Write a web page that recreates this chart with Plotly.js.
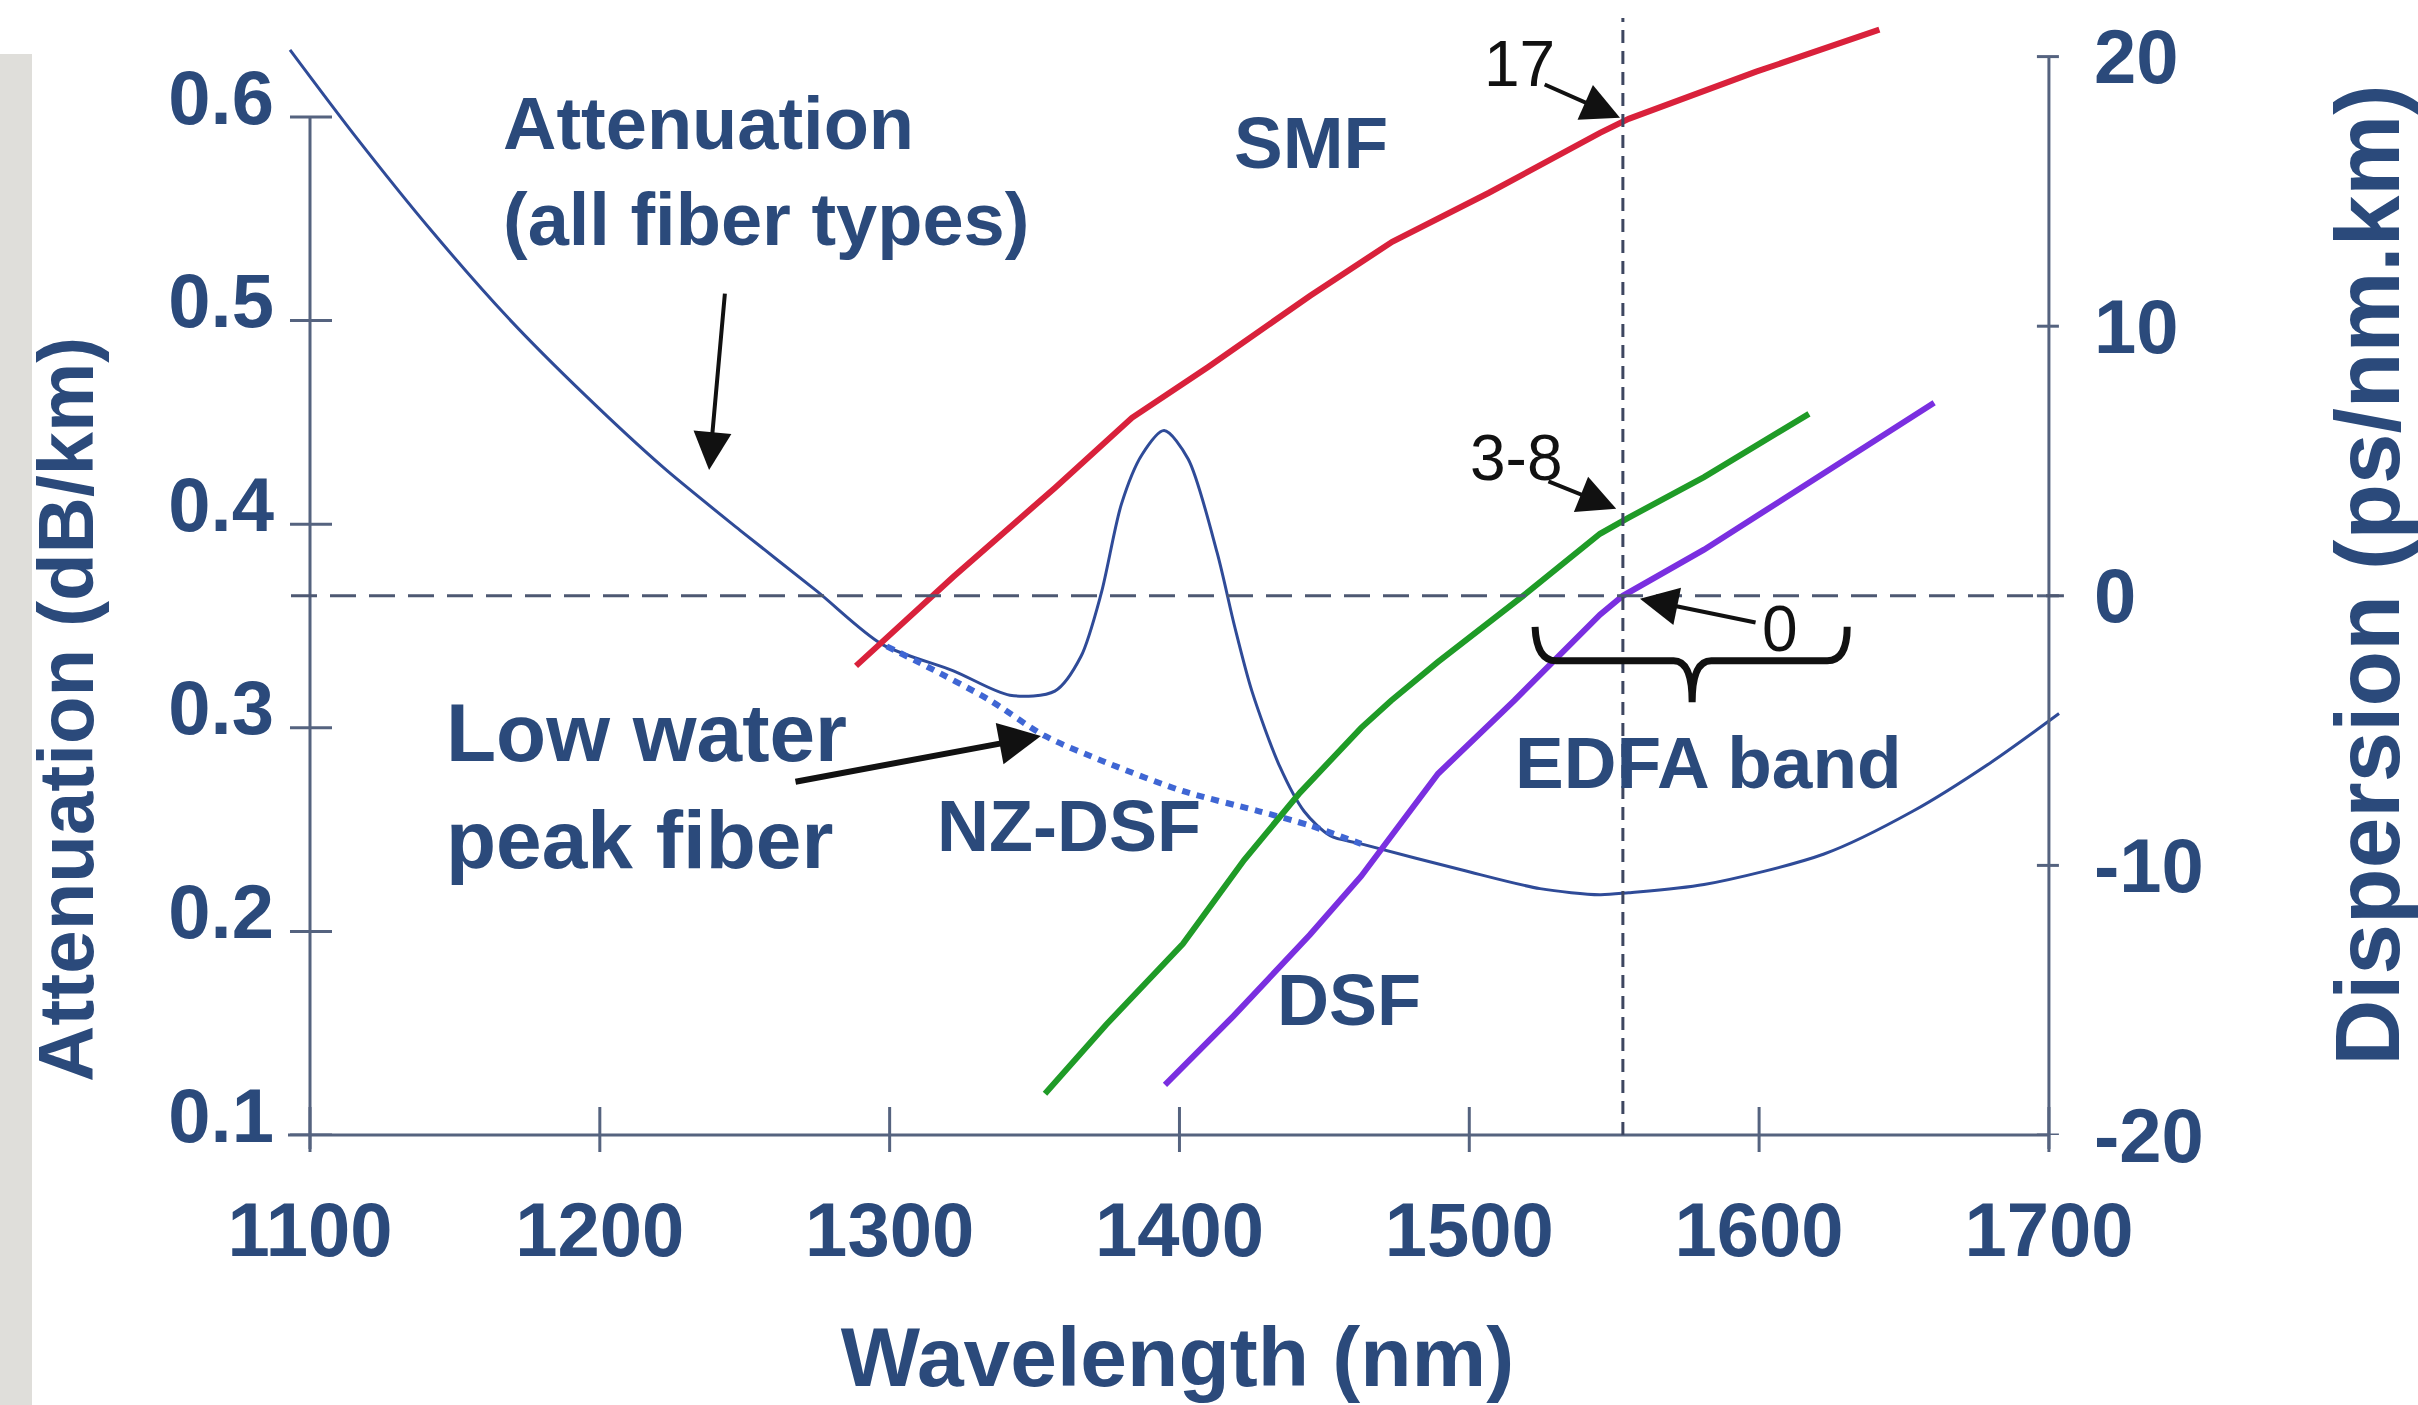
<!DOCTYPE html>
<html>
<head>
<meta charset="utf-8">
<script src="https://cdn.plot.ly/plotly-3.0.1.min.js"></script>
<style>
html,body{margin:0;padding:0;background:#ffffff;}
#chart{width:2418px;height:1405px;}
</style>
</head>
<body>
<div id="chart"></div>
<script>
// ---------------- data ----------------
// Attenuation, all fiber types (dB/km), left axis
const attnX = [1093.1, 1115.4, 1142.0, 1168.6, 1195.2, 1221.8, 1248.4, 1275.0, 1297.4, 1322.0, 1341.5, 1357.0, 1366.0, 1373.0, 1380.0, 1387.0, 1394.7, 1403.0, 1413.0, 1419.0, 1425.0, 1434.6, 1443.0, 1452.0, 1462.7, 1497.9, 1524.4, 1545.0, 1555.0, 1581.0, 1622.4, 1653.0, 1680.0, 1703.5];
const attnY = [0.633, 0.591, 0.544, 0.501, 0.463, 0.428, 0.397, 0.367, 0.341, 0.328, 0.316, 0.318, 0.335, 0.366, 0.410, 0.434, 0.446, 0.432, 0.386, 0.350, 0.318, 0.281, 0.259, 0.247, 0.243, 0.230, 0.221, 0.218, 0.219, 0.223, 0.238, 0.259, 0.283, 0.307];
// Low water peak fiber (dotted), left axis
const lowWaterX = [1299.0, 1313.0, 1334.0, 1353.6, 1374.7, 1401.0, 1427.5, 1445.0, 1462.7];
const lowWaterY = [0.340, 0.330, 0.314, 0.296, 0.283, 0.269, 0.259, 0.252, 0.243];
// Dispersion (ps/nm.km), right axis
const smfX = [1288.4, 1321.9, 1357.1, 1383.6, 1409.9, 1445.1, 1473.4, 1506.8, 1545.1, 1555.0, 1599.0, 1641.5];
const smfY = [-2.60, 0.70, 4.01, 6.60, 8.49, 11.13, 13.13, 14.95, 17.17, 17.69, 19.44, 21.00];
const nzX = [1353.6, 1374.7, 1401.2, 1422.3, 1441.6, 1462.7, 1473.0, 1489.2, 1519.1, 1545.1, 1555.0, 1581.0, 1617.2];
const nzY = [-18.47, -15.91, -12.91, -9.80, -7.30, -4.90, -3.89, -2.45, 0.04, 2.30, 2.90, 4.40, 6.75];
const dsfX = [1395.0, 1418.7, 1445.0, 1462.7, 1489.2, 1515.5, 1545.1, 1553.0, 1581.0, 1617.2, 1660.4];
const dsfY = [-18.14, -15.58, -12.57, -10.40, -6.60, -3.89, -0.70, 0.00, 1.71, 4.19, 7.16];

// ticks
const xTickVals = [1100, 1200, 1300, 1400, 1500, 1600, 1700];
const xTickText = ['1100', '1200', '1300', '1400', '1500', '1600', '1700'];
const attTickVals = [0.1, 0.2, 0.3, 0.4, 0.5, 0.6];
const attTickText = ['0.1', '0.2', '0.3', '0.4', '0.5', '0.6'];
const dispTickVals = [-20, -10, 0, 10, 20];
const dispTickText = ['-20', '-10', '0', '10', '20'];

// reference marks
const edfaLine = 1553;     // vertical dashed line (1550 nm window)
const zeroDisp = 0;        // horizontal dashed line

// ---------------- layout geometry ----------------
const W = 2418, H = 1405;
const M = {l: 280, r: 343, t: 15, b: 270};
const pw = W - M.l - M.r;
const ph = H - M.t - M.b;
const xRange = [1089.65, 1709.0];
const yRange = [0.1, 0.6501];
const y2Range = [-20, 21.543];
const px = v => (v - xRange[0]) / (xRange[1] - xRange[0]);
const py = v => (v - yRange[0]) / (yRange[1] - yRange[0]);
const py2 = v => (v - y2Range[0]) / (y2Range[1] - y2Range[0]);
const nmPerPx = (xRange[1] - xRange[0]) / pw;

const TXT = '#2b4a7b';
const AX = '#55637f';
const FONT = 'Liberation Sans, Arial, Helvetica, sans-serif';

const traces = [
  {x: attnX, y: attnY, yaxis: 'y', mode: 'lines', line: {color: '#2f4b98', width: 3, shape: 'spline', smoothing: 0.8}, hoverinfo: 'skip'},
  {x: lowWaterX, y: lowWaterY, yaxis: 'y', mode: 'lines', line: {color: '#3f66d4', width: 6, dash: '8px,7px', shape: 'spline', smoothing: 0.8}, hoverinfo: 'skip'},
  {x: smfX, y: smfY, yaxis: 'y2', mode: 'lines', line: {color: '#d9213b', width: 6}, hoverinfo: 'skip'},
  {x: nzX, y: nzY, yaxis: 'y2', mode: 'lines', line: {color: '#1f9b27', width: 6}, hoverinfo: 'skip'},
  {x: dsfX, y: dsfY, yaxis: 'y2', mode: 'lines', line: {color: '#7a2fe0', width: 6}, hoverinfo: 'skip'}
];

const shapes = [];
// grey strip at far left
shapes.push({type: 'rect', xref: 'paper', yref: 'paper', x0: -M.l / pw, x1: (32 - M.l) / pw, y0: -M.b / ph, y1: (M.t + ph - 54) / ph, fillcolor: '#dfdeda', line: {width: 0}, layer: 'below'});
// axis lines
shapes.push({type: 'line', xref: 'x', yref: 'paper', x0: xTickVals[0] - 22 * nmPerPx, x1: xTickVals[xTickVals.length - 1], y0: 0, y1: 0, line: {color: AX, width: 3}});
shapes.push({type: 'line', xref: 'x', yref: 'paper', x0: xTickVals[0], x1: xTickVals[0], y0: -14 / ph, y1: py(attTickVals[attTickVals.length - 1]), line: {color: AX, width: 3}});
shapes.push({type: 'line', xref: 'x', yref: 'paper', x0: xTickVals[xTickVals.length - 1], x1: xTickVals[xTickVals.length - 1], y0: -14 / ph, y1: py2(dispTickVals[dispTickVals.length - 1]), line: {color: AX, width: 3}});
// crossing ticks
xTickVals.forEach(v => shapes.push({type: 'line', xref: 'x', yref: 'paper', x0: v, x1: v, y0: -17 / ph, y1: 28 / ph, line: {color: AX, width: 3}}));
attTickVals.forEach(v => shapes.push({type: 'line', xref: 'paper', yref: 'y', x0: px(xTickVals[0]) - 20 / pw, x1: px(xTickVals[0]) + 22 / pw, y0: v, y1: v, line: {color: AX, width: 3}}));
dispTickVals.forEach(v => shapes.push({type: 'line', xref: 'paper', yref: 'y2', x0: px(xTickVals[xTickVals.length - 1]) - 12 / pw, x1: px(xTickVals[xTickVals.length - 1]) + 10 / pw, y0: v, y1: v, line: {color: AX, width: 3}}));
// dashed reference lines
shapes.push({type: 'line', xref: 'x', yref: 'y2', x0: xTickVals[0] - 19 * nmPerPx, x1: xTickVals[xTickVals.length - 1] + 15 * nmPerPx, y0: zeroDisp, y1: zeroDisp, line: {color: '#4d5872', width: 3, dash: '26px,13px'}});
shapes.push({type: 'line', xref: 'x', yref: 'paper', x0: edfaLine, x1: edfaLine, y0: 0, y1: (ph - 3) / ph, line: {color: '#3d4660', width: 3, dash: '13px,8px'}});
// EDFA band brace
shapes.push({type: 'path', xref: 'x', yref: 'y2', line: {color: '#111111', width: 7},
  path: 'M 1522.7,-1.15 Q 1523.2,-2.41 1530,-2.41 L 1570.5,-2.41 Q 1576.9,-2.41 1576.9,-3.95 Q 1576.9,-2.41 1583.5,-2.41 L 1623.5,-2.41 Q 1630.4,-2.41 1630.4,-1.15'});

function lab(text, x, y, yref, size, opts) {
  return Object.assign({text: text, x: x, y: y, xref: 'x', yref: yref, showarrow: false, xanchor: 'center', yanchor: 'middle',
    font: {family: FONT, size: size, color: TXT, weight: 'bold'}}, opts || {});
}
function arrow(x, y, ax, ay, yref, w, size) {
  return {text: '', x: x, y: y, ax: ax, ay: ay, xref: 'x', yref: yref, axref: 'x', ayref: yref, showarrow: true,
    arrowhead: 2, arrowsize: size, arrowwidth: w, arrowcolor: '#111111', standoff: 0, startstandoff: 0};
}
const BLK = {family: FONT, size: 64, color: '#111111'};

const annotations = [
  lab('Attenuation<br>(all fiber types)', 1165.9, 0.573, 'y', 74, {xanchor: 'left', align: 'left'}),
  lab('SMF', 1445.4, 0.5877, 'y', 73),
  lab('Low water<br>peak fiber', 1146.2, 0.2714, 'y', 82, {xanchor: 'left', align: 'left'}),
  lab('NZ-DSF', 1361.9, 0.2518, 'y', 72),
  lab('EDFA band', 1582.7, 0.2832, 'y', 73),
  lab('DSF', 1458.5, 0.1663, 'y', 72),
  lab('17', 1517.5, 19.73, 'y2', 64, {font: BLK}),
  lab('3-8', 1516.2, 5.12, 'y2', 64, {font: BLK}),
  lab('0', 1607.2, -1.22, 'y2', 64, {font: BLK}),
  arrow(1237.7, 0.4266, 1243.2, 0.514, 'y', 4, 1.9),
  arrow(1352.2, 0.296, 1267.0, 0.2734, 'y', 6, 1.4),
  arrow(1552.0, 17.73, 1525.5, 18.99, 'y2', 4, 1.9),
  arrow(1550.7, 3.23, 1526.8, 4.27, 'y2', 4, 1.9),
  arrow(1558.9, -0.11, 1599.3, -1.0, 'y2', 4, 1.9),
  {text: 'Attenuation (dB/km)', textangle: -90, xref: 'paper', yref: 'paper', x: (66 - M.l) / pw, y: (M.t + ph - 710) / ph,
   showarrow: false, xanchor: 'center', yanchor: 'middle', font: {family: FONT, size: 78, color: TXT, weight: 'bold'}}
];

const tickFont = {family: FONT, size: 76, color: TXT, weight: 'bold'};
const layout = {
  width: W, height: H,
  margin: {l: M.l, r: M.r, t: M.t, b: M.b, pad: 0},
  paper_bgcolor: '#ffffff', plot_bgcolor: '#ffffff',
  showlegend: false,
  font: {family: FONT, color: TXT},
  xaxis: {range: xRange, showgrid: false, zeroline: false, showline: false, ticks: '',
    tickmode: 'array', tickvals: xTickVals, ticktext: xTickText, tickfont: tickFont, ticklabelstandoff: 44, ticklabeloverflow: 'allow',
    title: {text: 'Wavelength (nm)', font: {family: FONT, size: 84, color: TXT, weight: 'bold'}, standoff: 56},
    automargin: false, fixedrange: true},
  yaxis: {range: yRange, anchor: 'free', position: px(xTickVals[0]), showgrid: false, zeroline: false, showline: false, ticks: '',
    tickmode: 'array', tickvals: attTickVals, ticktext: attTickText, tickfont: tickFont, ticklabelstandoff: 36, ticklabelshift: -20,
    ticklabeloverflow: 'allow', automargin: false, fixedrange: true},
  yaxis2: {range: y2Range, overlaying: 'y', side: 'right', anchor: 'free', position: px(xTickVals[xTickVals.length - 1]),
    showgrid: false, zeroline: false, showline: false, ticks: '',
    tickmode: 'array', tickvals: dispTickVals, ticktext: dispTickText, tickfont: tickFont, ticklabelstandoff: 44, ticklabelshift: 0,
    ticklabeloverflow: 'allow',
    title: {text: 'Dispersion (ps/nm.km)', font: {family: FONT, size: 91, color: TXT, weight: 'bold'}, standoff: 138},
    automargin: false, fixedrange: true},
  shapes: shapes,
  annotations: annotations
};

Plotly.newPlot('chart', traces, layout, {displayModeBar: false, staticPlot: true});
</script>
</body>
</html>
